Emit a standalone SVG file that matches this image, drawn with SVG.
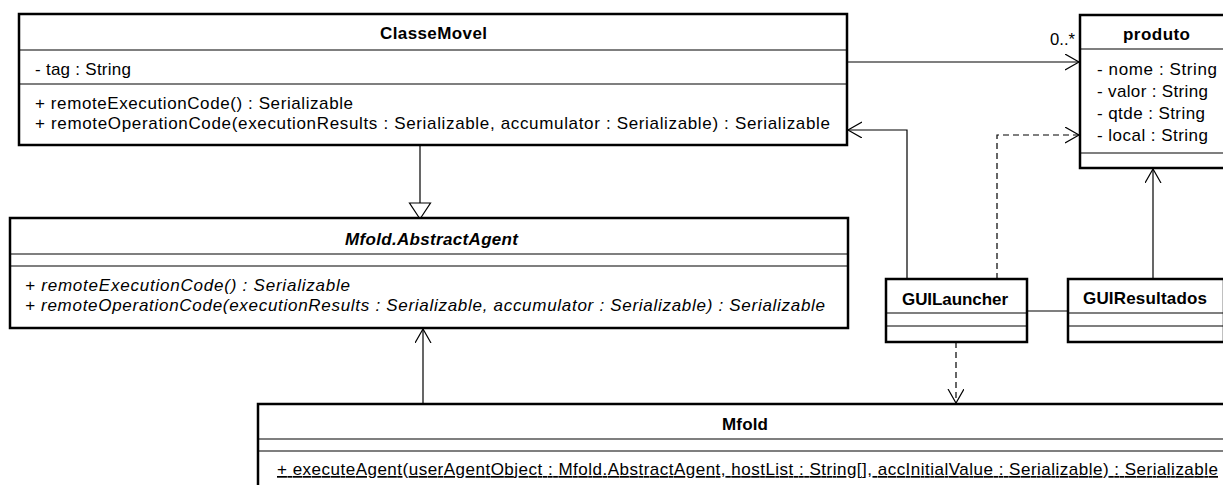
<svg xmlns="http://www.w3.org/2000/svg" width="1223" height="485" viewBox="0 0 1223 485">
<style>
.box{fill:#fff;stroke:#000;stroke-width:2.5}
.div{stroke:#000;stroke-width:1.2;fill:none}
.t{font-family:"Liberation Sans",Arial,sans-serif;font-size:17px;fill:#000}
.b{font-weight:bold;text-anchor:middle}
.i{font-style:italic}
.u{text-decoration:underline}
.c{stroke:#000;stroke-width:1.2;fill:none}
.d{stroke-dasharray:6,4}
</style>
<defs>
<marker id="open" markerWidth="20" markerHeight="20" refX="14" refY="8" orient="auto" markerUnits="userSpaceOnUse" viewBox="0 0 20 20">
<path d="M0,0 L14,8 L0,16" fill="none" stroke="#000" stroke-width="1.2"/>
</marker>
</defs>
<rect width="1223" height="485" fill="#fff"/>

<g id="connectors">
<path class="c" d="M420,145 V203"/>
<path d="M409.5,203 H430.5 L420,219 Z" fill="#fff" stroke="#000" stroke-width="1.2"/>
<path class="c" d="M423,404 V329" marker-end="url(#open)"/>
<path class="c" d="M848,62 H1079" marker-end="url(#open)"/>
<text class="t" x="1050" y="45" textLength="25" lengthAdjust="spacingAndGlyphs">0..*</text>
<path class="c" d="M907,279 V130 H848" marker-end="url(#open)"/>
<path class="c d" d="M997,279 V135 H1079" marker-end="url(#open)"/>
<path class="c" d="M1153,279 V169" marker-end="url(#open)"/>
<path class="c" d="M1027,311 H1068"/>
<path class="c d" d="M956,342 V403" marker-end="url(#open)"/>
</g>

<g id="ClasseMovel">
<rect class="box" x="19" y="14" width="828" height="131"/>
<path class="div" d="M19,50 H847 M19,84 H847"/>
<text class="t b" x="433.5" y="39" textLength="107">ClasseMovel</text>
<text class="t" x="35" y="75" textLength="96">- tag : String</text>
<text class="t" x="35" y="109" textLength="318">+ remoteExecutionCode() : Serializable</text>
<text class="t" x="35" y="129" textLength="795">+ remoteOperationCode(executionResults : Serializable, accumulator : Serializable) : Serializable</text>
</g>

<g id="AbstractAgent">
<rect class="box" x="10" y="218" width="838" height="110"/>
<path class="div" d="M10,254 H848 M10,266 H848"/>
<text class="t b i" x="431.5" y="245" textLength="173">Mfold.AbstractAgent</text>
<text class="t i" x="25" y="291" textLength="325">+ remoteExecutionCode() : Serializable</text>
<text class="t i" x="25" y="311" textLength="800">+ remoteOperationCode(executionResults : Serializable, accumulator : Serializable) : Serializable</text>
</g>

<g id="produto">
<rect class="box" x="1080" y="15" width="160" height="153"/>
<path class="div" d="M1080,49 H1240 M1080,153 H1240"/>
<text class="t b" x="1156.5" y="40" textLength="67">produto</text>
<text class="t" x="1097" y="75" textLength="120">- nome : String</text>
<text class="t" x="1097" y="97" textLength="111">- valor : String</text>
<text class="t" x="1097" y="119" textLength="108">- qtde : String</text>
<text class="t" x="1097" y="141" textLength="111">- local : String</text>
</g>

<g id="GUILauncher">
<rect class="box" x="886" y="279" width="141" height="63"/>
<path class="div" d="M886,313 H1027 M886,326 H1027"/>
<text class="t b" x="955" y="305" textLength="106">GUILauncher</text>
</g>

<g id="GUIResultados">
<rect class="box" x="1068" y="279" width="156" height="63"/>
<path class="div" d="M1068,313 H1224 M1068,326 H1224"/>
<text class="t b" x="1145" y="304" textLength="124">GUIResultados</text>
</g>

<g id="Mfold">
<rect class="box" x="258" y="404" width="980" height="100"/>
<path class="div" d="M258,439 H1238 M258,451 H1238"/>
<text class="t b" x="745" y="430" textLength="46">Mfold</text>
<text class="t u" x="277" y="475" textLength="941">+ executeAgent(userAgentObject : Mfold.AbstractAgent, hostList : String[], accInitialValue : Serializable) : Serializable</text>
</g>
</svg>
